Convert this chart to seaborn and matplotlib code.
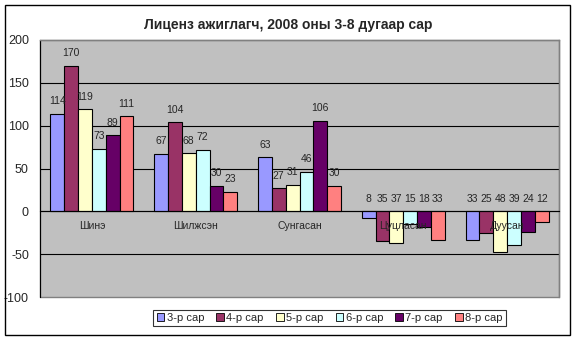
import numpy as np
import pandas as pd
import matplotlib
matplotlib.use("Agg")
import matplotlib.pyplot as plt
from matplotlib.patches import Rectangle
import seaborn as sns

# ---- data ----
categories = ["Шинэ", "Шилжсэн", "Сунгасан", "Цуцласан", "Дуусан"]
months = ["3-р сар", "4-р сар", "5-р сар", "6-р сар", "7-р сар", "8-р сар"]
m3 = [114, 67, 63, -8, -33]
m4 = [170, 104, 27, -35, -25]
m5 = [119, 68, 31, -37, -48]
m6 = [73, 72, 46, -15, -39]
m7 = [89, 30, 106, -18, -24]
m8 = [111, 23, 30, -33, -12]
colors = ["#9999FF", "#993366", "#FFFFCC", "#CCFFFF", "#660066", "#FF8080"]
title = "Лиценз ажиглагч, 2008 оны 3-8 дугаар сар"
yticks = [-100, -50, 0, 50, 100, 150, 200]

series = [m3, m4, m5, m6, m7, m8]
rows = []
for mname, vals in zip(months, series):
    for c, v in zip(categories, vals):
        rows.append({"category": c, "month": mname, "value": v})
df = pd.DataFrame(rows)

sns.set_style("white")
plt.rcParams["font.family"] = ["Liberation Sans", "DejaVu Sans"]

W, H = 577, 342
fig = plt.figure(figsize=(W / 100, H / 100), dpi=100)
fig.patch.set_facecolor("white")
ax = fig.add_axes([40 / W, 1 - 297 / H, (559 - 40) / W, (297 - 40) / H])

sns.barplot(data=df, x="category", y="value", hue="month", order=categories,
            hue_order=months, palette=colors, saturation=1, errorbar=None,
            width=0.8, edgecolor="black", linewidth=0.8, ax=ax)

ax.set_facecolor("#C0C0C0")
ax.patch.set_edgecolor("#808080")
ax.patch.set_linewidth(1.0)
ax.set_axisbelow(True)
ax.set_ylim(-100, 200)
ax.set_xlim(-0.5, len(categories) - 0.5)
ax.set_yticks(yticks)
ax.set_yticklabels([str(t) for t in yticks], fontsize=9)
ax.tick_params(axis="y", direction="out", length=3, width=0.8, color="black", pad=5)
ax.yaxis.grid(True, color="black", linewidth=0.8)
gls = ax.get_ygridlines()
gls[0].set_visible(False)
gls[-1].set_visible(False)

# x axis at zero
ax.spines["bottom"].set_position(("data", 0))
ax.spines["bottom"].set_color("black")
ax.spines["bottom"].set_linewidth(0.8)
ax.spines["left"].set_color("black")
ax.spines["left"].set_linewidth(0.8)
for s in ["top", "right"]:
    ax.spines[s].set_color("#808080")
    ax.spines[s].set_linewidth(1.0)
ax.set_xticks(range(len(categories)))
ax.set_xticklabels([])
ax.tick_params(axis="x", which="major", length=0)
ax.set_xticks(np.arange(0.5, len(categories) - 0.5, 1.0), minor=True)
ax.tick_params(axis="x", which="minor", direction="out", length=3, width=0.8, color="black")
ax.set_xlabel("")
ax.set_ylabel("")

# category labels (on top of bars)
for i, c in enumerate(categories):
    ax.annotate(c, xy=(i, 0), xytext=(0, -10.8), textcoords="offset points",
                ha="center", va="center", fontsize=7.5, zorder=10)

# data labels
for cont in ax.containers:
    for bar in cont:
        h = bar.get_height()
        x = bar.get_x() + bar.get_width() / 2
        ax.annotate(str(abs(int(round(h)))), xy=(x, max(h, 0)), xytext=(0, 9),
                    textcoords="offset points", ha="center", va="center",
                    fontsize=7.5, zorder=10)

# legend
handles, labels = ax.get_legend_handles_labels()
if ax.get_legend() is not None:
    ax.get_legend().remove()
for hd in handles:
    hd.set_edgecolor("black")
    hd.set_linewidth(0.6)
leg = fig.legend(handles, labels, loc="center", bbox_to_anchor=(329.5 / W, 1 - 318 / H),
                 ncol=6, fontsize=8, frameon=True, fancybox=False, shadow=False,
                 handlelength=0.7, handleheight=0.7, handletextpad=0.2,
                 columnspacing=1.1, borderpad=0.3, borderaxespad=0)
leg.get_frame().set_edgecolor("black")
leg.get_frame().set_linewidth(0.8)

fig.text(288 / W, 1 - 25 / H, title, ha="center", va="center",
         fontsize=10, fontweight="bold")

fig.patches.append(Rectangle((5 / W, 1 - 335 / H), 565 / W, 330 / H,
                             transform=fig.transFigure, fill=False,
                             edgecolor="black", linewidth=1.0))

fig.savefig("out.png", dpi=100)
